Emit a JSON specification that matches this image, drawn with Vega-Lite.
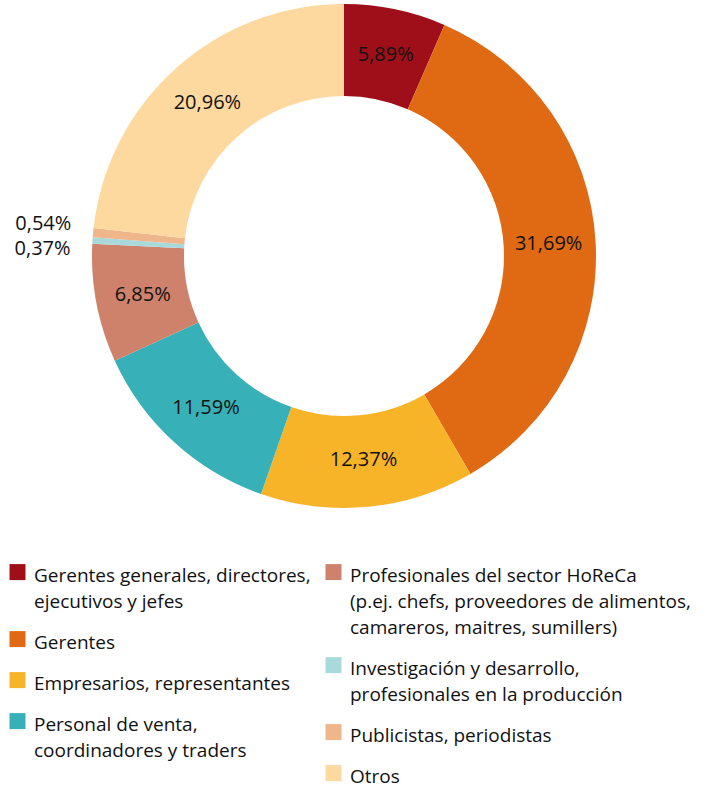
{
  "$schema": "https://vega.github.io/schema/vega-lite/v6.json",
  "width": 688,
  "height": 512,
  "autosize": {"type": "none"},
  "padding": {"left": 0, "top": 0, "right": 27, "bottom": 275},
  "background": "white",
  "config": {
    "view": {"stroke": null},
    "locale": {"number": {"decimal": ",", "thousands": ".", "grouping": [3], "currency": ["", " €"]}},
    "style": {"guide-label": {"lineHeight": 26}}
  },
  "data": {
    "values": [
      {"categoria": "Gerentes generales, directores,\nejecutivos y jefes", "share": 0.0589},
      {"categoria": "Gerentes", "share": 0.3169},
      {"categoria": "Empresarios, representantes", "share": 0.1237},
      {"categoria": "Personal de venta,\ncoordinadores y traders", "share": 0.1159},
      {"categoria": "Profesionales del sector HoReCa\n(p.ej. chefs, proveedores de alimentos,\ncamareros, maitres, sumillers)", "share": 0.0685},
      {"categoria": "Investigación y desarrollo,\nprofesionales en la producción", "share": 0.0037},
      {"categoria": "Publicistas, periodistas", "share": 0.0054},
      {"categoria": "Otros", "share": 0.2096}
    ]
  },
  "transform": [
    {"window": [{"op": "row_number", "as": "rank"}]},
    {"stack": "share", "groupby": [], "sort": [{"field": "rank", "order": "ascending"}], "as": ["inicio", "fin"]}
  ],
  "layer": [
    {
      "transform": [{"filter": "datum.rank <= 4"}],
      "mark": {"type": "arc", "innerRadius": 160, "outerRadius": 252},
      "encoding": {
        "theta": {"field": "inicio", "type": "quantitative"},
        "theta2": {"field": "fin"},
        "color": {
          "field": "categoria",
          "type": "nominal",
          "sort": null,
          "scale": {
            "domain": [
              "Gerentes generales, directores,\nejecutivos y jefes",
              "Gerentes",
              "Empresarios, representantes",
              "Personal de venta,\ncoordinadores y traders"
            ],
            "range": ["#9E0F1A", "#DF6A13", "#F8B429", "#37B1B7"]
          },
          "legend": {
            "legendX": 8,
            "legendY": 557,
            "title": null,
            "orient": "none",
            "direction": "vertical",
            "rowPadding": 12,
            "symbolType": "M-1,-0.3L1,-0.3L1,1.7L-1,1.7Z",
            "symbolSize": 256,
            "symbolStrokeWidth": 0,
            "labelFont": "Open Sans",
            "labelFontSize": 19,
            "labelColor": "#111111",
            "labelBaseline": "top",
            "labelLimit": 0,
            "labelOffset": 7,
            "labelExpr": "split(datum.label, '\\n')"
          }
        }
      }
    },
    {
      "transform": [{"filter": "datum.rank > 4"}],
      "mark": {"type": "arc", "innerRadius": 160, "outerRadius": 252},
      "encoding": {
        "theta": {"field": "inicio", "type": "quantitative"},
        "theta2": {"field": "fin"},
        "fill": {
          "field": "categoria",
          "type": "nominal",
          "sort": null,
          "scale": {
            "domain": [
              "Profesionales del sector HoReCa\n(p.ej. chefs, proveedores de alimentos,\ncamareros, maitres, sumillers)",
              "Investigación y desarrollo,\nprofesionales en la producción",
              "Publicistas, periodistas",
              "Otros"
            ],
            "range": ["#CE826B", "#A8DADB", "#EEB68A", "#FDD9A0"]
          },
          "legend": {
            "legendX": 324,
            "legendY": 557,
            "title": null,
            "orient": "none",
            "direction": "vertical",
            "rowPadding": 12,
            "symbolType": "M-1,-0.3L1,-0.3L1,1.7L-1,1.7Z",
            "symbolSize": 256,
            "symbolStrokeWidth": 0,
            "labelFont": "Open Sans",
            "labelFontSize": 19,
            "labelColor": "#111111",
            "labelBaseline": "top",
            "labelLimit": 0,
            "labelOffset": 7,
            "labelExpr": "split(datum.label, '\\n')"
          }
        }
      }
    },
    {
      "mark": {
        "type": "text",
        "radius": {"expr": "datum.share < 0.01 ? 302 : 205"},
        "dy": {"expr": "datum.share < 0.0045 ? 11 : datum.share < 0.01 ? -4 : 0"},
        "font": "Open Sans",
        "fontSize": 20,
        "fill": "#111111"
      },
      "encoding": {
        "theta": {"field": "share", "type": "quantitative", "stack": true},
        "order": {"field": "rank", "type": "quantitative"},
        "detail": {"field": "categoria", "type": "nominal"},
        "text": {"field": "share", "type": "quantitative", "format": ".2%"}
      }
    }
  ]
}
